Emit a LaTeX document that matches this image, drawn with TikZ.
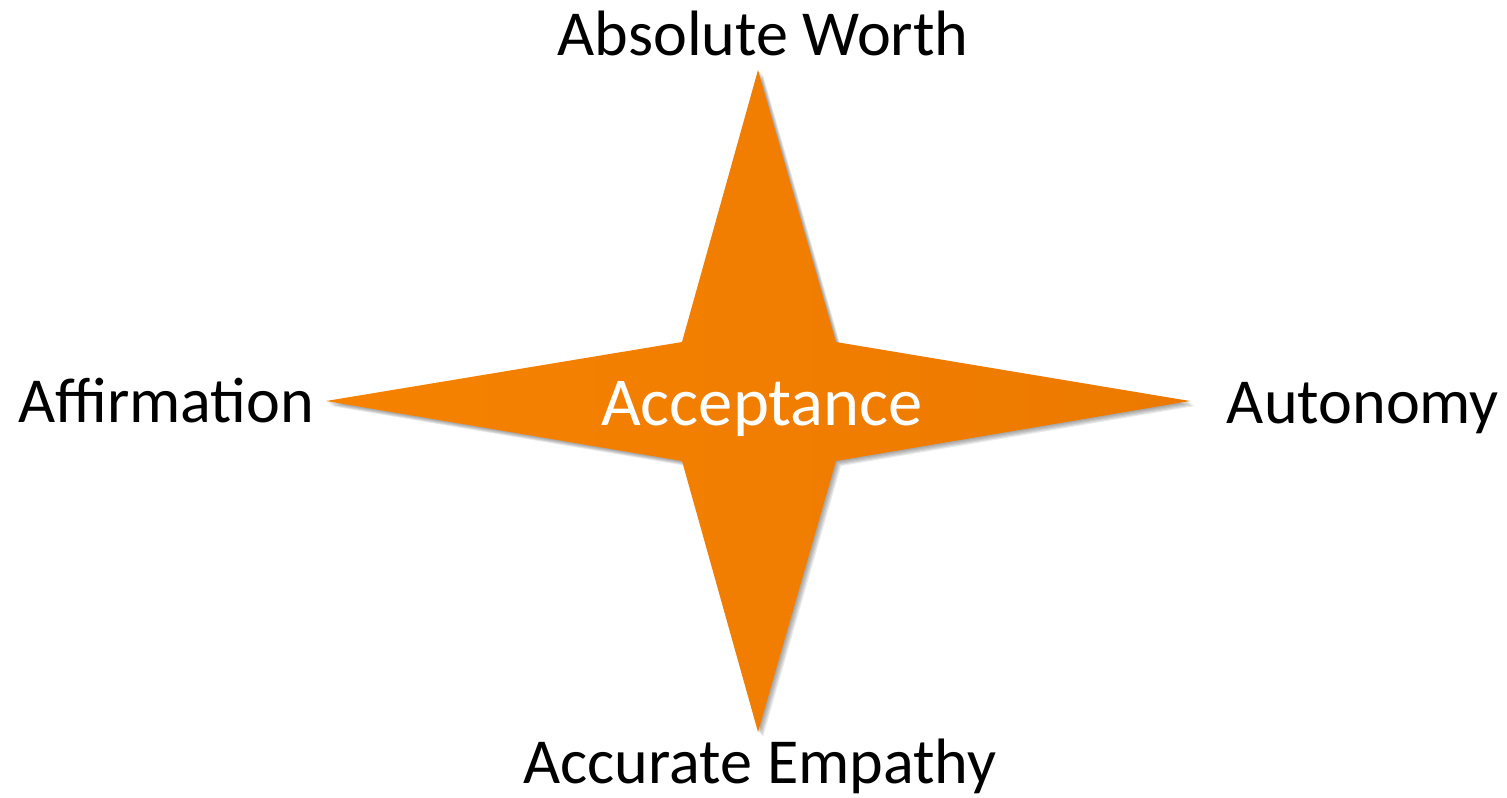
\documentclass[tikz,border=0pt]{standalone}
\usepackage{fontspec}
\setmainfont{Carlito}
\usetikzlibrary{positioning}
\definecolor{starorange}{HTML}{F68200}
\definecolor{stardark}{HTML}{EC7A00}
\definecolor{shadowgray}{HTML}{4A4A4A}
\tikzset{
  pointlabel/.style={font=\fontsize{36.5}{40}\selectfont,text=black,
                     inner sep=0pt,anchor=base},
  centrelabel/.style={font=\fontsize{39}{44}\selectfont,text=white,
                      inner sep=0pt,anchor=base},
  starfill/.style={left color=starorange,right color=stardark,draw=none},
  starshade/.style={fill=shadowgray,opacity=0.12,draw=none}
}
\newcommand{\starpath}{(758,70) -- (836,342) -- (1190,401) -- (836,461)
  -- (758,732) -- (682,461) -- (326,401) -- (682,342) -- cycle}

\begin{document}
\begin{tikzpicture}[x=0.2mm,y=-0.2mm]
  \useasboundingbox (0,0) rectangle (1507,797);
  % soft shadow
  \foreach \s in {1,2,3,4,5} {
    \fill[starshade,shift={(\s,\s)}] \starpath;
  }
  % the star
  \shade[starfill] \starpath;
  \node[centrelabel] (accept) at (762,425) {Acceptance};
  % the four points
  \node[pointlabel] (worth) at (763,55) {Absolute Worth};
  \node[pointlabel] (empathy) at (760,783) {Accurate Empathy};
  \node[pointlabel] (affirm) at (166,422) {Affirmation};
  \node[pointlabel] (autonomy) at (1363,423) {Autonomy};
\end{tikzpicture}
\end{document}
